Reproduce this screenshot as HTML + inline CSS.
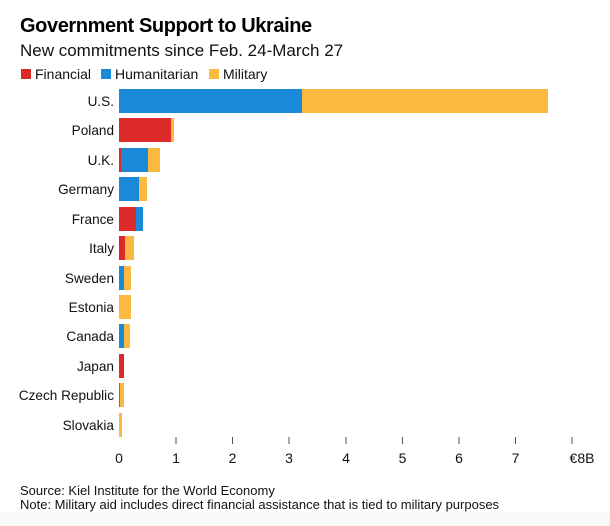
<!DOCTYPE html>
<html><head><meta charset="utf-8"><style>
html,body{margin:0;padding:0;background:#fff;}
svg{display:block;font-family:"Liberation Sans",Arial,sans-serif;}
</style></head><body>
<svg width="610" height="526" viewBox="0 0 610 526" xmlns="http://www.w3.org/2000/svg">
<rect x="0" y="0" width="610" height="526" fill="#fff"/>
<rect x="0" y="512" width="610" height="14" fill="#f8f8f8"/>
<text x="20" y="32" font-size="20" font-weight="bold" fill="#000" letter-spacing="-0.4">Government Support to Ukraine</text>
<text x="20" y="56" font-size="17" fill="#111">New commitments since Feb. 24-March 27</text>
<rect x="21" y="69" width="10" height="10" fill="#dc2a2a"/>
<text x="35" y="79" font-size="14" fill="#111">Financial</text>
<rect x="101" y="69" width="10" height="10" fill="#1a8ad8"/>
<text x="115" y="79" font-size="14" fill="#111">Humanitarian</text>
<rect x="209" y="69" width="10" height="10" fill="#fbb940"/>
<text x="223" y="79" font-size="14" fill="#111">Military</text>

<g font-size="13.6" fill="#111" text-anchor="end">
<text x="114" y="106">U.S.</text>
<text x="114" y="135">Poland</text>
<text x="114" y="165">U.K.</text>
<text x="114" y="194">Germany</text>
<text x="114" y="224">France</text>
<text x="114" y="253">Italy</text>
<text x="114" y="283">Sweden</text>
<text x="114" y="312">Estonia</text>
<text x="114" y="341">Canada</text>
<text x="114" y="371">Japan</text>
<text x="114" y="400">Czech Republic</text>
<text x="114" y="430">Slovakia</text>
</g>

<g>
<rect x="119" y="89" width="183" height="24" fill="#1a8ad8"/>
<rect x="302" y="89" width="246" height="24" fill="#fbb940"/>
<rect x="119" y="118" width="52" height="24" fill="#dc2a2a"/>
<rect x="171" y="118" width="3" height="24" fill="#fbb940"/>
<rect x="119" y="148" width="2" height="24" fill="#dc2a2a"/>
<rect x="121" y="148" width="27" height="24" fill="#1a8ad8"/>
<rect x="148" y="148" width="12" height="24" fill="#fbb940"/>
<rect x="119" y="177" width="20" height="24" fill="#1a8ad8"/>
<rect x="139" y="177" width="8" height="24" fill="#fbb940"/>
<rect x="119" y="207" width="17" height="24" fill="#dc2a2a"/>
<rect x="136" y="207" width="7" height="24" fill="#1a8ad8"/>
<rect x="119" y="236" width="6" height="24" fill="#dc2a2a"/>
<rect x="125" y="236" width="9" height="24" fill="#fbb940"/>
<rect x="119" y="266" width="5" height="24" fill="#1a8ad8"/>
<rect x="124" y="266" width="7" height="24" fill="#fbb940"/>
<rect x="119" y="295" width="12" height="24" fill="#fbb940"/>
<rect x="119" y="324" width="5" height="24" fill="#1a8ad8"/>
<rect x="124" y="324" width="6" height="24" fill="#fbb940"/>
<rect x="119" y="354" width="5" height="24" fill="#dc2a2a"/>
<rect x="119" y="383" width="1" height="24" fill="#1a8ad8"/>
<rect x="120" y="383" width="4" height="24" fill="#fbb940"/>
<rect x="119" y="413" width="3" height="24" fill="#fbb940"/>
</g>

<g stroke="#555" stroke-width="1">
<line x1="176" y1="437" x2="176" y2="444"/>
<line x1="232.5" y1="437" x2="232.5" y2="444"/>
<line x1="289" y1="437" x2="289" y2="444"/>
<line x1="346" y1="437" x2="346" y2="444"/>
<line x1="402.5" y1="437" x2="402.5" y2="444"/>
<line x1="459" y1="437" x2="459" y2="444"/>
<line x1="515.5" y1="437" x2="515.5" y2="444"/>
<line x1="572" y1="437" x2="572" y2="444"/>
</g>
<g font-size="14" fill="#111" text-anchor="middle">
<text x="119" y="463">0</text>
<text x="176" y="463">1</text>
<text x="232.5" y="463">2</text>
<text x="289" y="463">3</text>
<text x="346" y="463">4</text>
<text x="402.5" y="463">5</text>
<text x="459" y="463">6</text>
<text x="515.5" y="463">7</text>
<text x="582" y="463">€8B</text>
</g>
<text x="20" y="495" font-size="13" fill="#111">Source: Kiel Institute for the World Economy</text>
<text x="20" y="509" font-size="13" fill="#111">Note: Military aid includes direct financial assistance that is tied to military purposes</text>
</svg>
</body></html>
